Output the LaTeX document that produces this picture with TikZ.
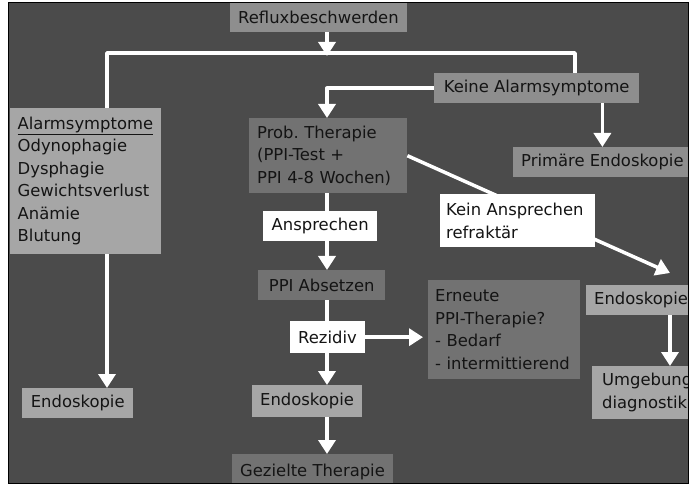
\documentclass[tikz,border=0pt]{standalone}
\usepackage{fontspec}
\setmainfont{DejaVu Sans}
\usetikzlibrary{arrows.meta}
\definecolor{bgc}{HTML}{4B4B4B}
\definecolor{midc}{HTML}{8E8E8E}
\definecolor{darkc}{HTML}{727272}
\definecolor{lightc}{HTML}{A6A6A6}
\definecolor{txtc}{HTML}{141414}
\begin{document}
\begin{tikzpicture}[x=1bp,y=-1bp,
  box/.style={anchor=north west, inner xsep=8bp, inner ysep=0bp,
    font=\fontsize{16.4bp}{22.5bp}\selectfont, text=txtc},
  midbox/.style={box, fill=midc},
  darkbox/.style={box, fill=darkc},
  lightbox/.style={box, fill=lightc},
  whitebox/.style={box, fill=white},
  wline/.style={draw=white, line width=3.5bp, line join=round},
  arr/.style={wline, -{Triangle[width=17bp,length=14bp]}},
]
\useasboundingbox (0,0) rectangle (692,485);
\fill[white] (0,0) rectangle (692,485);
\fill[bgc] (8,3) rectangle (688,483);
\begin{scope}
\clip (8,3) rectangle (688,483);
% nodes
\node[midbox, minimum width=175bp, minimum height=29bp] (reflux) at (230,3) {Refluxbeschwerden};
\node[midbox, minimum width=205bp, minimum height=30bp] (keine) at (434,73) {Keine Alarmsymptome};
\node[midbox, minimum width=175bp, minimum height=30bp] (prim) at (513,147) {Primäre Endoskopie};
\node[lightbox, text width=136bp, inner xsep=7.5bp, align=left, minimum height=146bp] (alarm) at (10,108)
  {\underline{Alarmsymptome}\\Odynophagie\\Dysphagie\\Gewichtsverlust\\Anämie\\Blutung};
\node[lightbox, minimum width=111bp, minimum height=30bp] (endoL) at (22,388) {Endoskopie};
\node[darkbox, text width=142bp, align=left, minimum height=75bp] (prob) at (249,118)
  {Prob.~Therapie\\(PPI-Test~+\\PPI~4-8~Wochen)};
\node[whitebox, minimum width=114bp, minimum height=30bp] (ansp) at (263,211) {Ansprechen};
\node[darkbox, minimum width=127bp, minimum height=30bp] (abs) at (258,270) {PPI Absetzen};
\node[whitebox, minimum width=74bp, minimum height=32bp] (rez) at (290,321) {Rezidiv};
\node[lightbox, minimum width=108bp, minimum height=32bp] (endoM) at (252,385) {Endoskopie};
\node[darkbox, minimum width=158bp, minimum height=36bp] (gez) at (232,454) {Gezielte Therapie};
\node[darkbox, text width=138bp, inner xsep=7bp, align=left, minimum height=99bp] (ern) at (428,280)
  {Erneute\\PPI-Therapie?\\-~Bedarf\\-~intermittierend};
\node[lightbox, text width=96bp, align=left, minimum height=30bp] (endoR) at (586,285) {Endoskopie};
\node[lightbox, inner xsep=10bp, text width=92bp, align=left, minimum height=53bp] (umg) at (592,366)
  {Umgebung\\diagnostik};
% coordinates
\coordinate (jl) at (107,53);
\coordinate (jr) at (575,53);
\coordinate (jm) at (327,56);
\coordinate (col) at (327,0);
\coordinate (ux) at (670,0);
\coordinate (kt) at (670,273);
% connectors
\draw[wline] (jl |- alarm.north) -- (jl) -- (jr) -- (jr |- keine.north);
\draw[arr] (reflux.south -| jm) -- (jm);
\draw[arr] (keine.west) -| (prob.north -| col);
\draw[arr] (keine.south -| prim.north) -- (prim.north);
\draw[arr] (alarm.south -| jl) -- (endoL.north -| jl);
\draw[wline] (prob.south -| col) -- (ansp.north -| col);
\draw[arr] (ansp.south -| col) -- (abs.north -| col);
\draw[wline] (abs.south -| col) -- (rez.north -| col);
\draw[arr] (rez.south -| col) -- (endoM.north -| col);
\draw[arr] (endoM.south -| col) -- (gez.north -| col);
\draw[arr, shorten >=5bp] (rez.east) -- (rez.east -| ern.west);
\draw[arr] (prob.east) -- (kt);
\draw[arr] (endoR.south -| ux) -- (umg.north -| ux);
\node[whitebox, inner xsep=6bp, text width=143bp, align=left, minimum height=53bp] (kein) at (440,194)
  {Kein~Ansprechen\\refraktär};
\end{scope}
\draw[black, line width=1bp] (8,3) rectangle (688,483);
\end{tikzpicture}
\end{document}
